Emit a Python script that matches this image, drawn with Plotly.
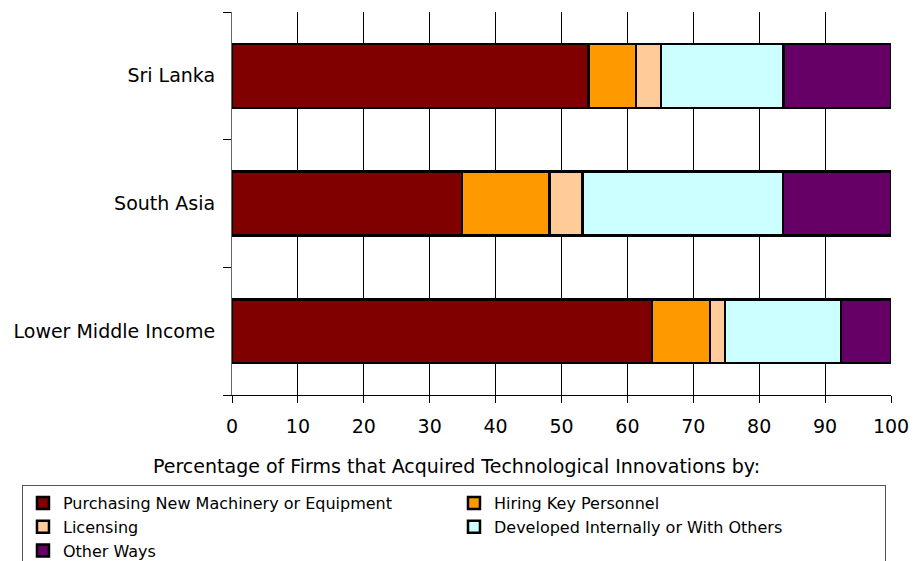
import plotly.graph_objects as go

# Regions, listed bottom-to-top as drawn on the category axis
regions = ["Lower Middle Income", "South Asia", "Sri Lanka"]

# Share of firms (%) by channel of technology acquisition
purchasing = [63.7, 34.9, 54.1]
hiring = [8.8, 13.3, 7.2]
licensing = [2.3, 5.0, 3.8]
developed = [17.6, 30.4, 18.6]
other_ways = [7.6, 16.4, 16.3]

series_names = [
    "Purchasing New Machinery or Equipment",
    "Hiring Key Personnel",
    "Licensing",
    "Developed Internally or With Others",
    "Other Ways",
]
series_values = [purchasing, hiring, licensing, developed, other_ways]
series_colors = ["#800000", "#FF9900", "#FFCC99", "#CCFFFF", "#660066"]

x_ticks = list(range(0, 101, 10))

FONT = "DejaVu Sans"
FS = 19

fig = go.Figure()
for name, vals, col in zip(series_names, series_values, series_colors):
    fig.add_trace(go.Bar(
        y=regions, x=vals, name=name, orientation="h",
        marker=dict(color=col, line=dict(color="black", width=2.5)),
    ))

fig.update_layout(
    barmode="stack",
    bargap=0.5,
    width=923, height=561,
    margin=dict(l=232, r=32, t=12, b=166, autoexpand=False),
    paper_bgcolor="white", plot_bgcolor="white",
    font=dict(family=FONT, size=FS, color="black"),
    showlegend=True,
    legend=dict(
        orientation="h",
        x=-0.3187, y=-0.235, xanchor="left", yanchor="top",
        entrywidth=386, entrywidthmode="pixels",
        bordercolor="#555555", borderwidth=1,
        font=dict(family=FONT, size=16),
        traceorder="normal",
        tracegroupgap=0,
    ),
    xaxis=dict(
        range=[0, 100], tickvals=x_ticks,
        showgrid=True, gridcolor="black", gridwidth=1,
        showline=True, linecolor="black", linewidth=1,
        ticks="outside", ticklen=7, tickcolor="black",
        ticklabelstandoff=7,
        zeroline=False,
        fixedrange=True,
    ),
    yaxis=dict(
        categoryorder="array", categoryarray=regions,
        tickson="boundaries",
        ticks="outside", ticklen=8, tickcolor="black",
        showline=True, linecolor="#666666", linewidth=1,
        showgrid=False,
        ticklabelstandoff=12,
    ),
    annotations=[dict(
        text="Percentage of Firms that Acquired Technological Innovations by:",
        xref="paper", yref="paper", x=0.340, y=-0.185,
        xanchor="center", yanchor="middle", showarrow=False,
        font=dict(family=FONT, size=FS),
    )],
)

fig.write_html("out.html")
